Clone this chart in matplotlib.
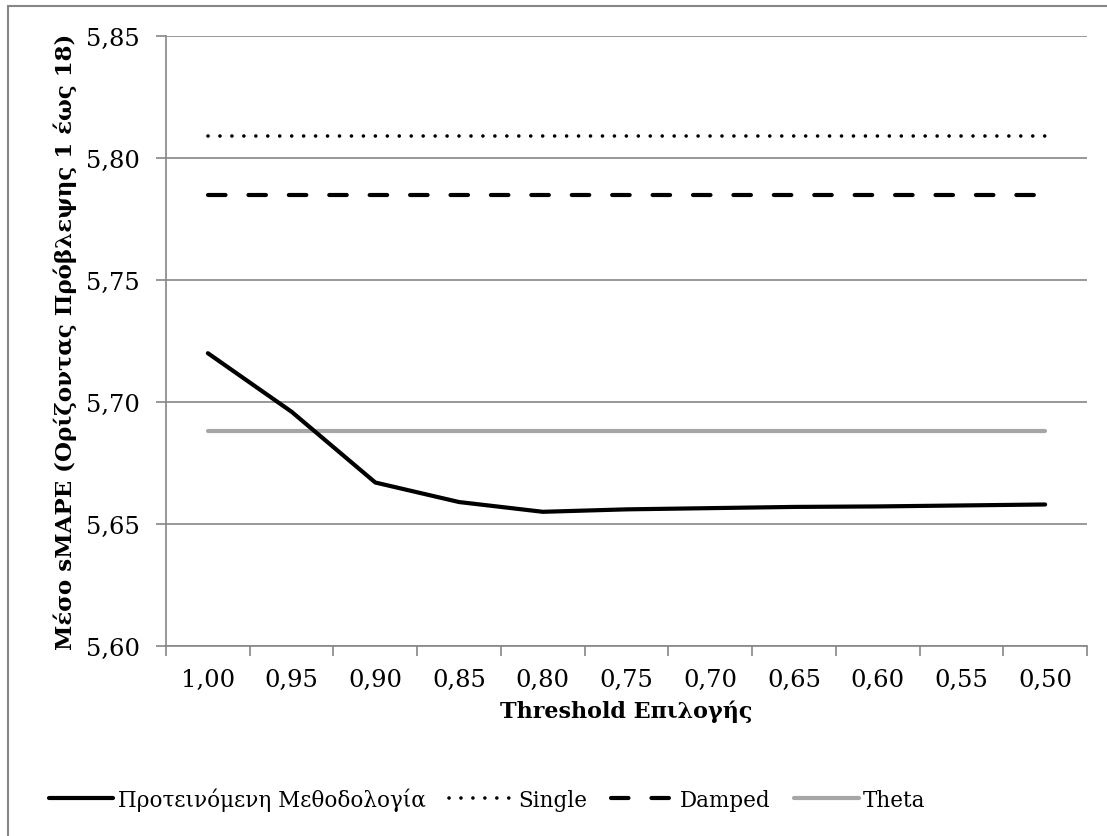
import matplotlib.pyplot as plt
from matplotlib.patches import Rectangle

# category labels (threshold values) and series values
thresholds = ["1,00", "0,95", "0,90", "0,85", "0,80", "0,75",
              "0,70", "0,65", "0,60", "0,55", "0,50"]
proposed = [5.720, 5.696, 5.667, 5.659, 5.655, 5.656,
            5.6565, 5.657, 5.6572, 5.6576, 5.658]
single = [5.809, 5.809, 5.809, 5.809, 5.809, 5.809,
          5.809, 5.809, 5.809, 5.809, 5.809]
damped = [5.785, 5.785, 5.785, 5.785, 5.785, 5.785,
          5.785, 5.785, 5.785, 5.785, 5.785]
theta = [5.688, 5.688, 5.688, 5.688, 5.688, 5.688,
         5.688, 5.688, 5.688, 5.688, 5.688]
y_ticks = [5.60, 5.65, 5.70, 5.75, 5.80, 5.85]

FONT = "DejaVu Serif"
GRID = "#868686"

fig = plt.figure(figsize=(11.07, 8.37), dpi=100)
ax = fig.add_axes([166 / 1107, 1 - 647 / 837, (1087 - 166) / 1107, (647 - 37) / 837])

# chart-area border (only top/left visible in the original crop)
fig.add_artist(Rectangle((8 / 1107, -0.05), 1.2, 1 - 7 / 837 + 0.05,
                         transform=fig.transFigure, fill=False,
                         edgecolor=GRID, lw=1.5))

x = list(range(len(thresholds)))

ax.plot(x, proposed, color="black", lw=3.0, solid_capstyle="round",
        solid_joinstyle="round", label="Προτεινόμενη Μεθοδολογία", zorder=4)
ax.plot(x, single, color="black", lw=2.6, linestyle=(0, (0.01, 3.3)),
        dash_capstyle="round", label="Single", zorder=3)
ax.plot(x, damped, color="black", lw=3.0, linestyle=(0, (4.2, 5.5)),
        dash_capstyle="round", label="Damped", zorder=3)
ax.plot(x, theta, color="#A6A6A6", lw=3.0, solid_capstyle="round",
        label="Theta", zorder=3)

ax.set_xlim(-0.5, len(thresholds) - 0.5)
ax.set_ylim(5.60, 5.85)
ax.set_yticks(y_ticks)
ax.set_yticklabels([f"{v:.2f}".replace(".", ",") for v in y_ticks],
                   fontsize=17.5, family=FONT)
ax.set_xticks(x)
ax.set_xticklabels(thresholds, fontsize=17.5, family=FONT)
ax.set_xticks([i - 0.5 for i in range(len(thresholds) + 1)], minor=True)
ax.tick_params(axis="x", which="major", length=0, pad=16)
ax.tick_params(axis="x", which="minor", length=7, color=GRID, width=1.2)
ax.tick_params(axis="y", length=7, color=GRID, width=1.2, pad=12)

ax.grid(axis="y", color=GRID, lw=1.2)
ax.set_axisbelow(True)
for side in ("top", "right"):
    ax.spines[side].set_visible(False)
for side in ("left", "bottom"):
    ax.spines[side].set_color(GRID)
    ax.spines[side].set_linewidth(1.2)

ax.set_xlabel("Threshold Επιλογής", fontsize=16, family=FONT,
              fontweight="bold", labelpad=6)
ax.set_ylabel("Μέσο sMAPE (Ορίζοντας Πρόβλεψης 1 έως 18)", fontsize=16.5,
              family=FONT, fontweight="bold", labelpad=6)

fig.legend(loc="center", bbox_to_anchor=(0.44, 1 - 800 / 837), ncol=4,
           frameon=False, prop={"family": FONT, "size": 15.5},
           handlelength=3.0, handletextpad=0.2, columnspacing=1.1)

fig.savefig("out.png", dpi=100)
